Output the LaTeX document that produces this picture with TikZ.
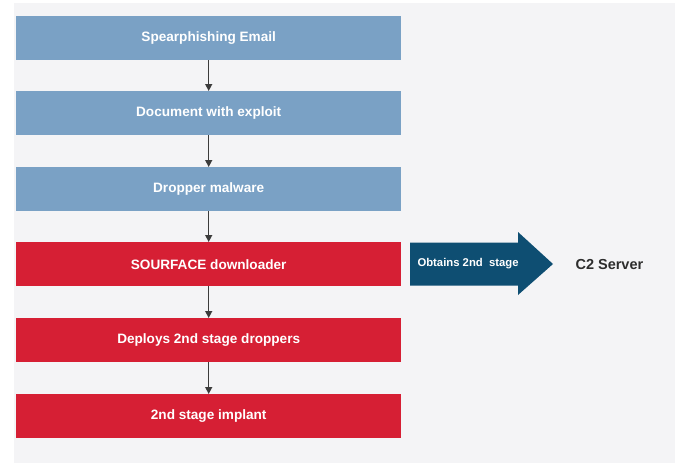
\documentclass[tikz,border=0pt]{standalone}
\usepackage{fontspec}
\setmainfont{Liberation Sans}
\usetikzlibrary{arrows.meta,shapes.arrows}
\definecolor{pagebg}{RGB}{244,244,246}
\definecolor{stepblue}{RGB}{122,161,197}
\definecolor{stepred}{RGB}{214,31,52}
\definecolor{c2blue}{RGB}{14,78,114}
\definecolor{linkgray}{RGB}{60,60,60}
\definecolor{labelgray}{RGB}{45,45,45}
\tikzset{
  x=1pt, y=-1pt,
  stepbox/.style={minimum width=385pt, minimum height=44pt, inner sep=0pt,
    text=white, font=\fontsize{13.6}{16}\selectfont\bfseries, anchor=north west},
  bluestep/.style={stepbox, fill=stepblue},
  redstep/.style={stepbox, fill=stepred},
  link/.style={draw=linkgray, line width=1.4pt, -{Triangle[width=7pt,length=7pt]}},
}
\begin{document}
\begin{tikzpicture}
  % canvas and light panel
  \useasboundingbox (0,0) rectangle (678,463);
  \fill[white] (0,0) rectangle (678,463);
  \fill[pagebg] (14,3) rectangle (675,463);

  % stage boxes
  \node[bluestep] (s1) at (16,16)  {Spearphishing Email};
  \node[bluestep] (s2) at (16,91)  {Document with exploit};
  \node[bluestep] (s3) at (16,167) {Dropper malware};
  \node[redstep]  (s4) at (16,242) {SOURFACE downloader};
  \node[redstep]  (s5) at (16,318) {Deploys 2nd stage droppers};
  \node[redstep]  (s6) at (16,394) {2nd stage implant};

  % chain connectors
  \draw[link] (s1.south) -- (s2.north);
  \draw[link] (s2.south) -- (s3.north);
  \draw[link] (s3.south) -- (s4.north);
  \draw[link] (s4.south) -- (s5.north);
  \draw[link] (s5.south) -- (s6.north);

  % block arrow to the C2 server
  \fill[c2blue] (410,242.5) -- (518,242.5) -- (518,232) -- (553,264)
    -- (518,295) -- (518,285.5) -- (410,285.5) -- cycle;
  \node[text=white, font=\fontsize{11.3}{13}\selectfont\bfseries, anchor=west]
    (obt) at (414,264) {Obtains 2nd\ \ stage};
  \node[text=labelgray, font=\fontsize{14.5}{17}\selectfont\bfseries, anchor=west]
    (c2) at (572,264.5) {C2 Server};
\end{tikzpicture}
\end{document}
